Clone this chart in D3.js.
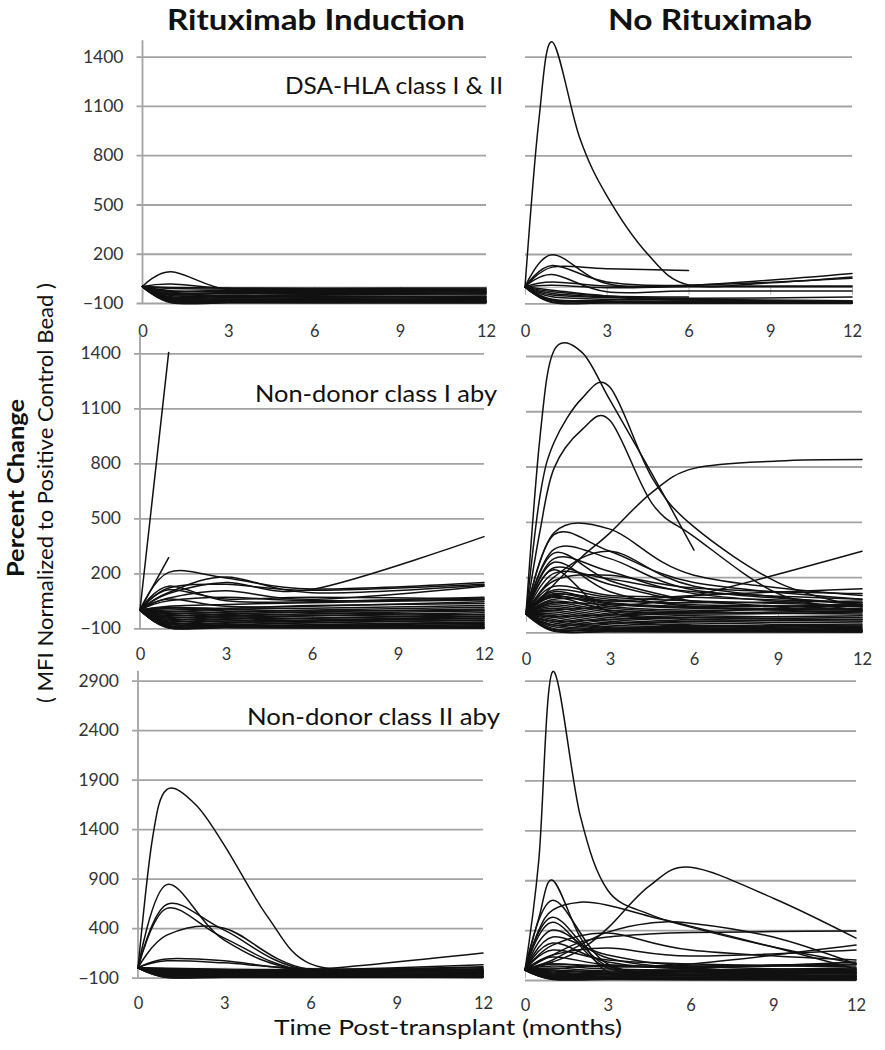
<!DOCTYPE html>
<html><head><meta charset="utf-8">
<script src="https://cdn.jsdelivr.net/npm/d3@7"></script>
<style>
html,body{margin:0;padding:0;background:#fff;}
svg{display:block;}
text{font-family:Lato,"Open Sans",sans-serif;}
</style></head><body>
<svg id="chart" width="885" height="1050"></svg>
<script>
// ---------- DATA ----------
const monthsCoarse = [0, 1, 3, 6, 12];
const monthsFine = [0, 0.5, 1, 2, 3, 4.5, 6, 9, 12];
const xTicks = [0, 3, 6, 9, 12];
const yTicksSmall = [-100, 200, 500, 800, 1100, 1400];
const yTicksLarge = [-100, 400, 900, 1400, 1900, 2400, 2900];

const columnTitles = ["Rituximab Induction", "No Rituximab"];
const rowTitles = ["DSA-HLA class I & II", "Non-donor class I aby", "Non-donor class II aby"];
const yTitle = "Percent Change";
const ySubtitle = "( MFI Normalized to Positive Control Bead )";
const xTitle = "Time Post-transplant (months)";

// DSA, Rituximab induction (coarse months)
const dsaRituxLines = [
  [0, 90, -20, -25, -30], [0, 15, -10, -12, -15], [0, -5, -8, -10, -8], [0, -12, -15, -20, -18],
  [0, -25, -30, -28, -32], [0, -35, -45, -40, -45], [0, -45, -55, -50, -52], [0, -55, -60, -62, -60],
  [0, -62, -70, -68, -72], [0, -70, -75, -78, -80], [0, -78, -82, -80, -85], [0, -85, -88, -90, -88],
  [0, -90, -92, -94, -92], [0, -95, -96, -95, -97], [0, -98, -99, -99, -99], [0, -88, -85, -86, -90],
  [0, -82, -78, -84, -76], [0, -75, -66, -72, -66], [0, -66, -58, -56, -63], [0, -50, -40, -46, -38],
  [0, -40, -36, -34, -40], [0, -30, -22, -24, -25], [0, -92, -97, -98, -99], [0, -80, -92, -96, -95]
];
const dsaRituxPeaks = [];

// DSA, no rituximab (fine months)
const dsaNoRituxPeaks = [
  [0, 1000, 1490, 910, 555, 200, 12, 25, 60]
];
const dsaNoRituxLines = [
  [0, 195, 20, 8, 82], [0, 120, 110, 100, null], [0, 130, 30, 10, 52], [0, 75, -30, -25, -25],
  [0, 30, 5, 5, 5], [0, 10, -5, 0, 0], [0, -40, -60, -70, -62], [0, -60, -75, -80, -88],
  [0, -75, -85, -88, -92], [0, -85, -90, -93, -96], [0, -92, -95, -97, -99], [0, -80, -92, -96, -98],
  [0, -95, -98, -99, -100], [0, -50, -65, -80, -90], [0, -30, -55, -62, null], [0, -20, -55, -75, -85]
];

// Non-donor class I, Rituximab induction
const class1RituxPeaks = [];
const class1RituxLines = [
  [0, 1405, null, null, null], [0, 285, null, null, null],
  [0, 205, 175, 115, 150], [0, 90, 150, 112, 400], [0, 120, 140, 107, 140], [0, 95, 180, 94, 135],
  [0, 65, 105, 58, 130], [0, 110, 60, 70, 60], [0, 130, 50, 45, 70], [0, 50, 70, 50, 60],
  [0, 20, 30, 40, 55], [0, 60, 20, 20, 45], [0, 10, 10, 25, 35], [0, -10, 5, 10, 25],
  [0, -20, -10, 0, 15], [0, -30, -20, -10, 5], [0, -40, -30, -20, -5], [0, -50, -40, -30, -15],
  [0, -60, -50, -45, -25], [0, -70, -60, -55, -35], [0, -80, -70, -62, -45], [0, -90, -80, -70, -55],
  [0, -95, -85, -80, -65], [0, -98, -90, -86, -72], [0, -85, -92, -90, -80], [0, -75, -88, -93, -86],
  [0, -65, -75, -88, -92], [0, -55, -65, -78, -96], [0, -45, -55, -68, -78], [0, -35, -45, -58, -68],
  [0, -25, -35, -48, -58], [0, -15, -25, -38, -48], [0, -5, -15, -28, -38], [0, 5, -5, -15, -28],
  [0, 15, 5, -5, 0], [0, -97, -97, -97, -98], [0, -92, -96, -98, -99], [0, -88, -94, -96, -97],
  [0, -70, -82, -90, -94]
];

// Non-donor class I, no rituximab
const class1NoRituxPeaks = [
  [0, 960, 1430, 1420, 1160, 760, 346, null, null],
  [0, 640, 930, 1170, 1230, 740, 472, 170, 37],
  [0, 450, 790, 1000, 1050, 600, 420, 110, 20],
  [0, 80, 160, 310, 440, 660, 790, 830, 838]
];
const class1NoRituxLines = [
  [0, 440, 460, 210, 100], [0, 430, 340, 170, 80], [0, 20, 40, 100, 340], [0, 330, 180, 65, null],
  [0, 350, 300, 130, 60], [0, 200, 340, 150, 50], [0, 250, 160, 70, 25], [0, 180, 210, 140, 110],
  [0, 220, 190, 120, 80], [0, 240, 10, -20, -30], [0, 150, 100, 90, 60], [0, 120, 70, 100, 137],
  [0, 280, 120, 40, 10], [0, 300, 230, 110, 40],
  [0, 110, 60, 40, 50], [0, 100, 40, 20, 30], [0, 90, 20, 0, 10], [0, 80, 70, 60, 70],
  [0, 70, 30, 10, 0], [0, 60, 50, 30, 20], [0, 50, 10, -10, -20], [0, 40, 0, -20, -30],
  [0, 30, -10, -30, -40], [0, 20, -20, -40, -50], [0, 10, -30, -50, -60], [0, 0, -40, -60, -70],
  [0, -10, -50, -65, -75], [0, -20, -60, -70, -80], [0, -30, -70, -75, -85], [0, -40, -75, -80, -88],
  [0, -50, -80, -85, -90], [0, -60, -85, -88, -92], [0, -70, -88, -90, -95], [0, -80, -90, -93, -96],
  [0, -90, -95, -95, -98], [0, -95, -97, -98, -99], [0, 105, 80, 50, 40], [0, 95, 55, 35, 25],
  [0, -60, -50, -40, -30], [0, -40, -30, -20, -10], [0, -85, -80, -70, -60], [0, 60, 20, 10, 60],
  [0, 130, 90, 70, 45], [0, -15, -5, 5, 15]
];

// Non-donor class II, Rituximab induction
const class2RituxPeaks = [
  [0, 1300, 1800, 1650, 1240, 520, 40, -30, -35]
];
const class2RituxLines = [
  [0, 840, 280, -40, -60], [0, 640, 380, -30, -50], [0, 600, 300, -40, -60], [0, 330, 400, -20, -40],
  [0, 90, 70, -20, -30], [0, 70, 50, -10, -20], [0, -20, -30, -20, 150],
  [0, -10, -20, -25, 30], [0, -30, -35, -30, 10], [0, -40, -45, -40, -10], [0, -50, -55, -50, -20],
  [0, -60, -60, -55, -35], [0, -70, -70, -65, -50], [0, -80, -75, -70, -60], [0, -90, -85, -80, -70],
  [0, -95, -90, -88, -80], [0, -98, -95, -92, -90], [0, -85, -95, -96, -95], [0, -75, -80, -90, -98],
  [0, -65, -70, -75, -85], [0, -55, -65, -72, -90], [0, -45, -50, -60, -75], [0, -35, -40, -45, -65],
  [0, -25, -30, -35, -45], [0, -15, -25, -30, -25], [0, -5, -15, -20, 0]
];

// Non-donor class II, no rituximab
const class2NoRituxPeaks = [
  [0, 1100, 2990, 1550, 800, 560, 430, 230, 65],
  [0, 40, 80, 200, 420, 840, 1030, 720, 320],
  [0, 520, 900, 330, -20, -40, -50, -60, -70],
  [0, 400, 600, 680, 650, 540, 440, 230, 10],
  [0, 80, 150, 280, 330, 360, 375, 385, 390],
  [0, 50, 100, 250, 380, 470, 470, 330, 60]
];
const class2NoRituxLines = [
  [0, 700, 60, -20, -30], [0, 530, 40, 0, -20], [0, 480, 20, -10, -40], [0, 400, 120, 20, -30],
  [0, 330, 150, 40, 0], [0, 270, 80, 10, -20], [0, 200, 100, 60, 30], [0, 130, 50, 30, 50],
  [0, 60, 40, 60, 250], [0, 150, 220, 140, 200], [0, 250, 370, 200, 100],
  [0, 40, 10, 0, 20], [0, 20, -10, -10, 10], [0, 0, -20, -20, 0], [0, -10, -30, -30, -10],
  [0, -20, -40, -40, -20], [0, -30, -50, -50, -35], [0, -40, -60, -60, -50], [0, -50, -70, -70, -60],
  [0, -60, -75, -75, -70], [0, -70, -80, -80, -80], [0, -80, -85, -85, -88], [0, -90, -90, -92, -94],
  [0, -95, -95, -97, -98], [0, -85, -92, -95, -99], [0, -75, -88, -90, -92], [0, -65, -70, -78, -85],
  [0, -55, -45, -55, -65], [0, -45, -35, -45, -55], [0, 60, 30, 40, 60], [0, 10, 50, 20, 80]
];

// ---------- LAYOUT ----------
const panels = [
  {lines: dsaRituxLines, peaks: dsaRituxPeaks, yTicks: yTicksSmall, yMax: 1500, xr: [142.5, 486], yr: [303, 56.7], left: true, xLabelY: 331},
  {lines: dsaNoRituxLines, peaks: dsaNoRituxPeaks, yTicks: yTicksSmall, yMax: 1500, xr: [525, 852], yr: [303.3, 56.7], left: false, xLabelY: 331},
  {lines: class1RituxLines, peaks: class1RituxPeaks, yTicks: yTicksSmall, yMax: 1500, xr: [140, 484], yr: [628.3, 353.3], left: true, xLabelY: 654},
  {lines: class1NoRituxLines, peaks: class1NoRituxPeaks, yTicks: yTicksSmall, yMax: 1500, xr: [526, 862], yr: [632.3, 356], left: false, xLabelY: 659},
  {lines: class2RituxLines, peaks: class2RituxPeaks, yTicks: yTicksLarge, yMax: 3000, xr: [138, 483], yr: [977.7, 680.7], left: true, xLabelY: 1003},
  {lines: class2NoRituxLines, peaks: class2NoRituxPeaks, yTicks: yTicksLarge, yMax: 3000, xr: [525, 856], yr: [980, 680.7], left: false, xLabelY: 1005}
];

const svg = d3.select("#chart");
const gridColor = "#a3a3a3";
const tickFont = 16.5;

panels.forEach(p => {
  const x = d3.scaleLinear().domain([0, 12]).range(p.xr);
  const y = d3.scaleLinear().domain([p.yTicks[0], p.yTicks[p.yTicks.length - 1]]).range(p.yr);
  const g = svg.append("g");
  const W = p.xr[1] - p.xr[0];

  // gridlines + y labels
  const yAxis = d3.axisLeft(y).tickValues(p.yTicks).tickSizeInner(-W).tickSizeOuter(0).tickPadding(19)
    .tickFormat(p.left ? d3.format("d") : () => "");
  const ya = g.append("g").attr("transform", `translate(${p.xr[0]},0)`).call(yAxis);
  ya.select(".domain").remove();
  ya.selectAll("line").attr("stroke", gridColor).attr("stroke-width", 1.8)
    .attr("x1", p.left ? -6 : 0);
  ya.selectAll("text").attr("font-size", tickFont + 1).attr("fill", "#333")
    .style("font-family", "Lato, 'Open Sans', sans-serif");

  // vertical axis line (left panels)
  if (p.left) {
    g.append("line").attr("x1", x(0)).attr("x2", x(0)).attr("y1", y(p.yTicks[0])).attr("y2", y(p.yMax))
      .attr("stroke", gridColor).attr("stroke-width", 1.8);
  }

  // zero axis with downward ticks
  const za = g.append("g").attr("transform", `translate(0,${y(0)})`)
    .call(d3.axisBottom(x).tickValues(xTicks).tickSizeInner(8).tickSizeOuter(0).tickFormat(() => ""));
  za.select(".domain").attr("stroke", "#b5b5b5").attr("stroke-width", 1);
  za.selectAll("line").attr("stroke", "#b5b5b5").attr("stroke-width", 1);

  // x tick labels
  const xa = g.append("g").attr("transform", `translate(0,${p.xLabelY - 6})`)
    .call(d3.axisBottom(x).tickValues(xTicks).tickSize(0).tickPadding(0));
  xa.select(".domain").remove();
  xa.selectAll("text").attr("font-size", tickFont).attr("fill", "#333").attr("dy", "0.71em")
    .style("font-family", "Lato, 'Open Sans', sans-serif");

  // data lines
  const lineGen = d3.line().curve(d3.curveCardinal.tension(0)).x(d => x(d[0])).y(d => y(d[1]));
  const toPts = (months, vals) => months.map((m, i) => [m, vals[i]]).filter(d => d[1] != null);
  const dl = g.append("g").attr("fill", "none").attr("stroke", "#111").attr("stroke-width", 1.5)
    .attr("stroke-linejoin", "round").attr("stroke-linecap", "round");
  p.lines.forEach(v => dl.append("path").attr("d", lineGen(toPts(monthsCoarse, v))));
  p.peaks.forEach(v => dl.append("path").attr("d", lineGen(toPts(monthsFine, v))));
});

// ---------- TEXT ----------
const T = (txt, x, yb, size, weight, len) => svg.append("text").attr("x", x).attr("y", yb)
  .attr("font-size", size).attr("font-weight", weight).attr("fill", "#111")
  .attr("textLength", len).attr("lengthAdjust", "spacingAndGlyphs").text(txt);

T(columnTitles[0], 167, 30, 28, "bold", 298);
T(columnTitles[1], 608, 30, 28, "bold", 204);
T(rowTitles[0], 285, 94, 23, "normal", 218);
T(rowTitles[1], 255, 401.7, 23, "normal", 242);
T(rowTitles[2], 247, 725, 23, "normal", 253);
T(xTitle, 274, 1035, 22, "normal", 348);

svg.append("text").attr("transform", "translate(24,488) rotate(-90)").attr("text-anchor", "middle")
  .attr("font-size", 23).attr("font-weight", "bold").attr("fill", "#111")
  .attr("textLength", 178).attr("lengthAdjust", "spacingAndGlyphs").text(yTitle);
svg.append("text").attr("transform", "translate(53,493) rotate(-90)").attr("text-anchor", "middle")
  .attr("font-size", 21).attr("fill", "#111")
  .attr("textLength", 420).attr("lengthAdjust", "spacingAndGlyphs").text(ySubtitle);
</script>
</body></html>
